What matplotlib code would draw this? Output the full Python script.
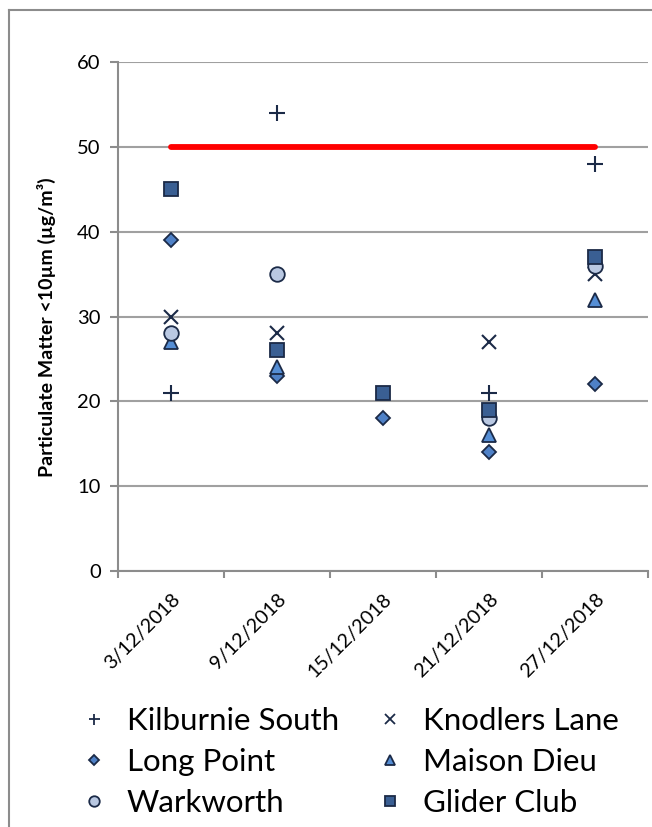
import matplotlib
matplotlib.use("Agg")
import matplotlib.pyplot as plt
import numpy as np
from matplotlib.lines import Line2D

dates = ["3/12/2018", "9/12/2018", "15/12/2018", "21/12/2018", "27/12/2018"]
kilburnie_south = [21, 54, np.nan, 21, 48]
knodlers_lane = [30, 28, np.nan, 27, 35]
long_point = [39, 23, 18, 14, 22]
maison_dieu = [27, 24, np.nan, 16, 32]
warkworth = [28, 35, np.nan, 18, 36]
glider_club = [45, 26, 21, 19, 37]
standard = [50, 50, 50, 50, 50]
series_names = ["Kilburnie South", "Knodlers Lane", "Long Point",
                "Maison Dieu", "Warkworth", "Glider Club"]

FONT = ["Lato", "DejaVu Sans"]
plt.rcParams['font.family'] = FONT

W, H = 652, 827
fig = plt.figure(figsize=(W / 100, H / 100), dpi=100)
L, R, T, B = 118, 648, 62, 571
ax = fig.add_axes([L / W, 1 - B / H, (R - L) / W, (B - T) / H])

x = np.arange(1, len(dates) + 1)
edge = "#1B2A47"
ax.plot(x, standard, color="#FF0000", lw=4.2, solid_capstyle="round", zorder=2)

styles = [
    dict(marker="+", color=edge, ms=11, mew=1.5, ls="none"),
    dict(marker="x", color=edge, ms=10, mew=1.5, ls="none"),
    dict(marker="D", mfc="#4F81C7", mec=edge, ms=7.5, mew=1.3, ls="none"),
    dict(marker="^", mfc="#558ED5", mec=edge, ms=9.5, mew=1.3, ls="none"),
    dict(marker="o", mfc="#B9C8E2", mec=edge, ms=10.5, mew=1.3, ls="none"),
    dict(marker="s", mfc="#3A5F93", mec=edge, ms=10.5, mew=1.3, ls="none"),
]
values = [kilburnie_south, knodlers_lane, long_point, maison_dieu, warkworth, glider_club]
for name, vals, kw in zip(series_names, values, styles):
    ax.plot(x, vals, label=name, zorder=3, **kw)

ax.set_xlim(0.5, len(dates) + 0.5)
ax.set_ylim(0, 60)
ax.set_yticks(np.arange(0, 61, 10))
ax.set_xticks(x)
ax.set_xticklabels(dates, rotation=45, ha="right", rotation_mode="anchor", fontsize=14.3)
ax.set_xticks(np.arange(0.5, len(dates) + 1, 1), minor=True)
ax.tick_params(axis="x", which="major", length=0, pad=14)
ax.tick_params(axis="x", which="minor", length=5, width=1.5, color="#8C8C8C")
ax.tick_params(axis="y", length=5.5, width=1.5, color="#8C8C8C", labelsize=14.5, pad=7)
ax.grid(axis="y", color="#A0A0A0", lw=1.5, zorder=0)
for s in ["top", "right"]:
    ax.spines[s].set_visible(False)
for s in ["left", "bottom"]:
    ax.spines[s].set_color("#8C8C8C")
    ax.spines[s].set_linewidth(1.5)
ax.set_axisbelow(True)

fig.text(46 / W, 1 - 327 / H, "Particulate Matter <10µm (µg/m³)", rotation=90,
         ha="center", va="center", fontsize=14, fontweight="bold")

# outer border
fig.add_artist(Line2D([9 / W, 9 / W], [0, 1 - 10 / H], transform=fig.transFigure, color="#8C8C8C", lw=1.5))
fig.add_artist(Line2D([9 / W, 1], [1 - 10 / H, 1 - 10 / H], transform=fig.transFigure, color="#8C8C8C", lw=1.5))

# legend (manual placement)
leg_cols = [(94, 127), (390, 423)]
leg_rows = [(719, 730), (760, 771), (801, 812)]
order = [0, 2, 4, 1, 3, 5]
leg_scale = 0.72
for k, i in enumerate(order):
    col, row = divmod(k, 3)
    xm, xt = leg_cols[col]
    ym, yb = leg_rows[row]
    kw = dict(styles[i])
    kw["ms"] = kw["ms"] * leg_scale
    if "mew" in kw and kw["marker"] in "+x":
        kw["mew"] = 1.3
    fig.add_artist(Line2D([xm / W], [1 - ym / H], transform=fig.transFigure, **kw))
    fig.text(xt / W, 1 - yb / H, series_names[i], fontsize=22.5, ha="left", va="baseline")

fig.savefig("out.png", dpi=100)
